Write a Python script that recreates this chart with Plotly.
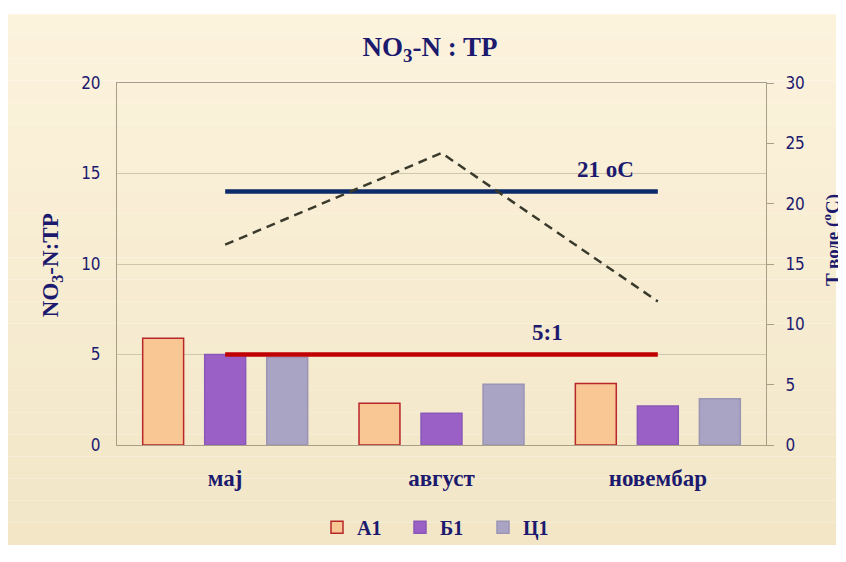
import plotly.graph_objects as go

months = ["мај", "август", "новембар"]
a1 = [5.9, 2.3, 3.4]
b1 = [5.0, 1.75, 2.15]
c1 = [4.85, 3.35, 2.55]
temp = [16.6, 24.2, 11.9]
ratio_ref = [5, 5, 5]
temp_ref = [21, 21, 21]

navy = "#1c1a6e"
serif = "Liberation Serif"

fig = go.Figure()

bar_styles = [
    ("А1", a1, "#f8c793", "#b8262a"),
    ("Б1", b1, "#9a60c6", "#8a58b8"),
    ("Ц1", c1, "#a9a4c4", "#9a95b4"),
]
for name, vals, fill, edge in bar_styles:
    fig.add_trace(go.Bar(
        x=months, y=vals, name=name,
        marker={"color": fill, "line": {"color": edge, "width": 1.5}},
    ))

fig.add_trace(go.Scatter(
    x=months, y=ratio_ref, mode="lines",
    line={"color": "#c00000", "width": 4.5},
    showlegend=False,
))
fig.add_trace(go.Scatter(
    x=months, y=temp_ref, mode="lines", yaxis="y2",
    line={"color": "#0d2a6a", "width": 4.5},
    showlegend=False,
))
fig.add_trace(go.Scatter(
    x=months, y=temp, mode="lines", yaxis="y2",
    line={"color": "#3a3a2c", "width": 2.5, "dash": "9px,6px"},
    showlegend=False,
))

tick_font = {"family": "DejaVu Sans Condensed", "size": 17, "color": navy}
bold = {"family": serif, "size": 22, "color": navy, "weight": "bold"}

# background panel, light at the top and a bit darker at the bottom
top_rgb = (252, 243, 221)
bot_rgb = (242, 230, 199)
bands = 24
y_lo, y_hi = -0.276, 1.19
bg_shapes = []
for i in range(bands):
    t = i / (bands - 1)
    rgb = tuple(round(bot_rgb[k] + (top_rgb[k] - bot_rgb[k]) * t) for k in range(3))
    bg_shapes.append({
        "type": "rect", "xref": "paper", "yref": "paper",
        "x0": -0.168, "x1": 1.108,
        "y0": y_lo + (y_hi - y_lo) * i / bands,
        "y1": y_lo + (y_hi - y_lo) * (i + 1) / bands,
        "fillcolor": "rgb(%d,%d,%d)" % rgb, "line": {"width": 0}, "layer": "below",
    })

fig.update_layout(
    width=838, height=554,
    margin={"l": 109, "r": 80, "t": 75, "b": 117},
    paper_bgcolor="white",
    plot_bgcolor="rgba(255,255,255,0.3)",
    barmode="group",
    bargap=0.14,
    bargroupgap=0.34,
    title={
        "text": "NO<sub>3</sub>-N : TP",
        "x": 0.5036, "xanchor": "center",
        "y": 0.93, "yanchor": "middle",
        "font": {**bold, "size": 27},
    },
    xaxis={
        "showline": True, "linecolor": "#a89f88", "mirror": True,
        "tickfont": {**bold, "size": 23},
        "ticklabelstandoff": 12,
        "showgrid": False,
    },
    yaxis={
        "range": [0, 20], "dtick": 5,
        "showgrid": True, "gridcolor": "#cfc6ae",
        "showline": True, "linecolor": "#a89f88", "mirror": True,
        "tickfont": tick_font,
        "ticklabelstandoff": 12,
        "zeroline": False,
    },
    yaxis2={
        "range": [0, 30], "dtick": 5,
        "overlaying": "y", "side": "right",
        "showgrid": False, "zeroline": False,
        "showline": True, "linecolor": "#a89f88",
        "ticks": "outside", "ticklen": 7, "tickcolor": "#a89f88",
        "tickfont": tick_font,
        "ticklabelstandoff": 8,
    },
    legend={
        "orientation": "h",
        "x": 0.5, "xanchor": "center",
        "y": -0.227, "yanchor": "middle",
        "font": {**bold, "size": 20},
        "bgcolor": "rgba(0,0,0,0)",
        "itemwidth": 30,
        "entrywidth": 38, "entrywidthmode": "pixels",
    },
    shapes=bg_shapes,
    annotations=[
        {"text": "NO<sub>3</sub>-N:TP", "xref": "paper", "yref": "paper",
         "x": -0.1, "y": 0.497, "xanchor": "center", "yanchor": "middle",
         "textangle": -90, "showarrow": False, "font": {**bold, "size": 23}},
        {"text": "T воде (<sup>o</sup>C)", "xref": "paper", "yref": "paper",
         "x": 1.1, "y": 0.566, "xanchor": "center", "yanchor": "middle",
         "textangle": -90, "showarrow": False, "font": {**bold, "size": 19}},
        {"text": "21 оС", "xref": "paper", "yref": "paper",
         "x": 0.752, "y": 0.76, "xanchor": "center", "yanchor": "middle",
         "showarrow": False, "font": {**bold, "size": 23}},
        {"text": "5:1", "xref": "paper", "yref": "paper",
         "x": 0.663, "y": 0.312, "xanchor": "center", "yanchor": "middle",
         "showarrow": False, "font": {**bold, "size": 23}},
    ],
)

fig.write_html("out.html")
